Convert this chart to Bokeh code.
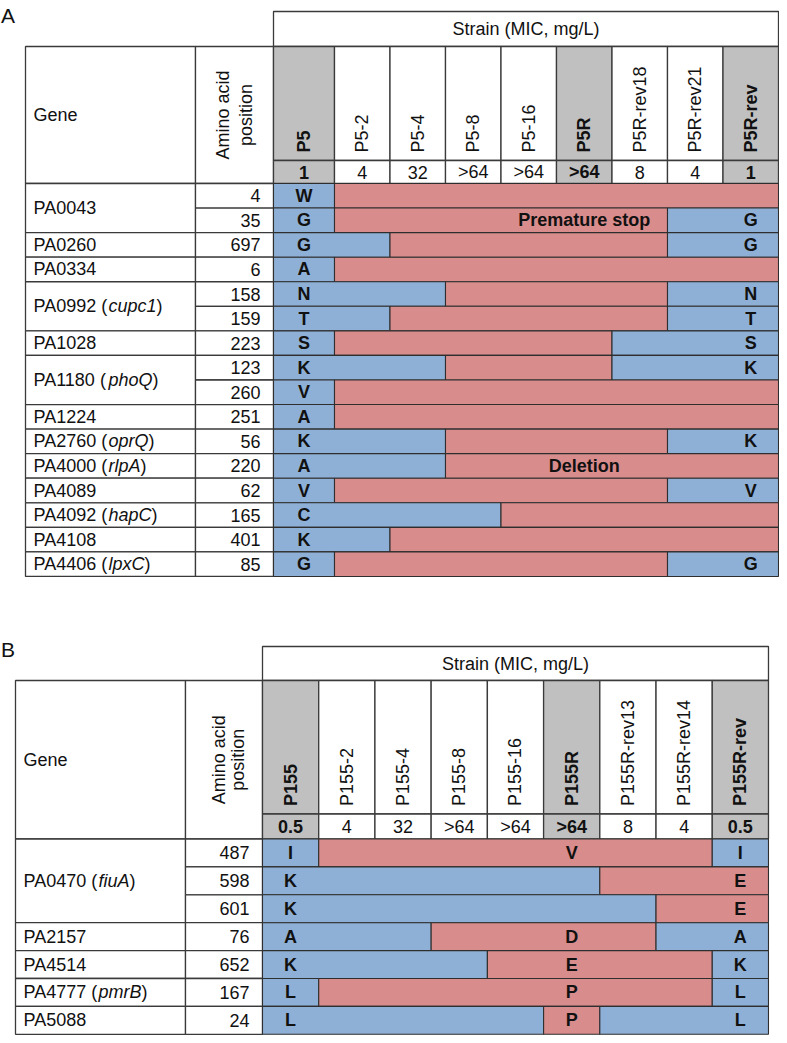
import math
from bokeh.plotting import figure
from bokeh.models import Range1d, ColumnDataSource
from bokeh.embed import file_html
from bokeh.resources import INLINE
from bokeh.core.properties import value

# ---------------- DATA ----------------
# Panel A
A_strains = ["P5", "P5-2", "P5-4", "P5-8", "P5-16", "P5R", "P5R-rev18", "P5R-rev21", "P5R-rev"]
A_mic = ["1", "4", "32", ">64", ">64", ">64", "8", "4", "1"]
A_key = [True, False, False, False, False, True, False, False, True]
A_gene = ["PA0043", "PA0043", "PA0260", "PA0334", "PA0992", "PA0992", "PA1028", "PA1180",
          "PA1180", "PA1224", "PA2760", "PA4000", "PA4089", "PA4092", "PA4108", "PA4406"]
A_gene_name = ["", "", "", "", "cupc1", "cupc1", "", "phoQ", "phoQ", "", "oprQ", "rlpA",
               "", "hapC", "", "lpxC"]
A_pos = [4, 35, 697, 6, 158, 159, 223, 123, 260, 251, 56, 220, 62, 165, 401, 85]
# B = wild-type residue (blue), R = changed (red), one letter per strain
A_state = ["BRRRRRRRR", "BRRRRRRBB", "BBRRRRRBB", "BRRRRRRRR", "BBBRRRRBB", "BBRRRRRBB",
           "BRRRRRBBB", "BBBRRRBBB", "BRRRRRRRR", "BRRRRRRRR", "BBBRRRRBB", "BBBRRRRRR",
           "BRRRRRRBB", "BBBBRRRRR", "BBRRRRRRR", "BRRRRRRBB"]
A_first = ["W", "G", "G", "A", "N", "T", "S", "K", "V", "A", "K", "A", "V", "C", "K", "G"]
A_mid = ["", "Premature stop", "", "", "", "", "", "", "", "", "", "Deletion", "", "", "", ""]
A_last = ["", "G", "G", "", "N", "T", "S", "K", "", "", "K", "", "V", "", "", "G"]

# Panel B
B_strains = ["P155", "P155-2", "P155-4", "P155-8", "P155-16", "P155R", "P155R-rev13",
             "P155R-rev14", "P155R-rev"]
B_mic = ["0.5", "4", "32", ">64", ">64", ">64", "8", "4", "0.5"]
B_key = [True, False, False, False, False, True, False, False, True]
B_gene = ["PA0470", "PA0470", "PA0470", "PA2157", "PA4514", "PA4777", "PA5088"]
B_gene_name = ["fiuA", "fiuA", "fiuA", "", "", "pmrB", ""]
B_pos = [487, 598, 601, 76, 652, 167, 24]
B_state = ["BRRRRRRRB", "BBBBBBRRR", "BBBBBBBRR", "BBBRRRRBB", "BBBBRRRRB", "BRRRRRRRB",
           "BBBBBRBBB"]
B_first = ["I", "K", "K", "A", "K", "L", "L"]
B_mid = ["V", "", "", "D", "E", "P", "P"]
B_last = ["I", "E", "E", "A", "K", "L", "L"]

# ---------------- STYLE ----------------
BLUE = "#8fb0d6"
RED = "#d98c8c"
GRAY = "#c0c0c0"
LINE = "#3a3a3a"
FONT = "Liberation Sans"
FS = 18

AW = {'P': .667, 'A': .667, ' ': .278, '(': .333, ')': .333, 'c': .5, 'u': .556, 'p': .556,
      'h': .556, 'o': .556, 'Q': .778, 'r': .333, 'l': .222, 'a': .556, 'C': .722, 'x': .5,
      'f': .278, 'i': .222, 'm': .833, 'B': .667}


def tw(s):
    return sum(AW.get(ch, .556) for ch in s) * FS


# figure fits the 787x1043 window with its 8px page margin
W, H = 779, 1035
X0, Y0 = 4, 6
p = figure(width=W, height=H, x_range=Range1d(X0, X0 + W), y_range=Range1d(Y0 + H, Y0),
           output_backend="svg", toolbar_location=None, min_border=0,
           x_axis_location=None, y_axis_location=None)
p.grid.visible = False
p.outline_line_color = None
p.background_fill_color = "white"
p.border_fill_color = "white"

cells = dict(l=[], r=[], t=[], b=[], c=[])
segs = dict(l=[], r=[], t=[], b=[], c=[])
texts = {}


def cell(l, r, t, b, c="white"):
    for k, v in zip("lrtbc", (l, r, t, b, c)):
        cells[k].append(v)


def seg(l, r, t, b, c):
    for k, v in zip("lrtbc", (l, r, t, b, c)):
        segs[k].append(v)


def T(x, y, s, align="left", style="normal", angle=0.0, size=FS, baseline="middle"):
    key = (align, style, angle, size, baseline)
    d = texts.setdefault(key, dict(x=[], y=[], s=[]))
    d["x"].append(x)
    d["y"].append(y)
    d["s"].append(s)


def panel(label, label_y, gl, pl, sl, edges, strain_top, hdr_top, names_bot, mic_bot, row_h,
          amino_dx, strains, mic, key, genes, names, pos, states, first, mid, last):
    right = edges[-1]
    T(X0 + 0.5, label_y, label, size=21, baseline="alphabetic")
    cell(sl, right, strain_top, hdr_top)
    T((sl + right) / 2, (strain_top + hdr_top) / 2, "Strain (MIC, mg/L)", align="center")
    cell(gl, pl, hdr_top, mic_bot)
    cell(pl, sl, hdr_top, mic_bot)
    hy = (hdr_top + mic_bot) / 2
    T(gl + 8, hy, "Gene")
    pc = (pl + sl) / 2
    T(pc + amino_dx[0], hy, "Amino acid", align="center", angle=math.pi / 2)
    T(pc + amino_dx[1], hy, "position", align="center", angle=math.pi / 2)
    for j in range(len(strains)):
        fill = GRAY if key[j] else "white"
        st = "bold" if key[j] else "normal"
        cx = (edges[j] + edges[j + 1]) / 2
        cell(edges[j], edges[j + 1], hdr_top, names_bot, fill)
        cell(edges[j], edges[j + 1], names_bot, mic_bot, fill)
        T(cx, names_bot - 8, strains[j], align="left", style=st, angle=math.pi / 2)
        T(cx, (names_bot + mic_bot) / 2, mic[j], align="center", style=st)
    n = len(pos)
    tops = [mic_bot + i * row_h for i in range(n + 1)]
    i = 0
    while i < n:
        j = i
        while j + 1 < n and genes[j + 1] == genes[i]:
            j += 1
        cell(gl, pl, tops[i], tops[j + 1])
        ym = (tops[i] + tops[j + 1]) / 2
        x0 = gl + 8
        if names[i]:
            pre = genes[i] + " ("
            T(x0, ym, pre)
            x1 = x0 + tw(pre)
            T(x1, ym, names[i], style="italic")
            T(x1 + tw(names[i]), ym, ")")
        else:
            T(x0, ym, genes[i])
        i = j + 1
    for i in range(n):
        ym = (tops[i] + tops[i + 1]) / 2
        cell(pl, sl, tops[i], tops[i + 1])
        T(sl - 13, ym, str(pos[i]), align="right")
        s = states[i]
        k = 0
        while k < len(s):
            m = k
            while m + 1 < len(s) and s[m + 1] == s[k]:
                m += 1
            seg(edges[k], edges[m + 1], tops[i], tops[i + 1], BLUE if s[k] == "B" else RED)
            k = m + 1
        T((edges[0] + edges[1]) / 2, ym, first[i], align="center", style="bold")
        if mid[i]:
            T((edges[5] + edges[6]) / 2, ym, mid[i], align="center", style="bold")
        if last[i]:
            T((edges[8] + edges[9]) / 2, ym, last[i], align="center", style="bold")


A_edges = [277, 338] + [338 + 55.5 * k for k in range(1, 9)]
B_edges = [266 + 56.22 * k for k in range(10)]

panel("A", 21, 29, 199, 277, A_edges, 17, 52, 166, 189, 24.56, (-11.5, 11.5),
      A_strains, A_mic, A_key, A_gene, A_gene_name, A_pos, A_state, A_first, A_mid, A_last)
panel("B", 655, 19, 189, 266, B_edges, 652, 686, 819.5, 844.5, 27.9, (-5, 13.5),
      B_strains, B_mic, B_key, B_gene, B_gene_name, B_pos, B_state, B_first, B_mid, B_last)

p.quad(left="l", right="r", top="t", bottom="b", fill_color="c", source=ColumnDataSource(cells),
       line_color=LINE, line_width=1.3)
p.quad(left="l", right="r", top="t", bottom="b", fill_color="c", source=ColumnDataSource(segs),
       line_color="#2e2e2e", line_width=1.1)

for (align, style, angle, size, baseline), d in texts.items():
    p.text(x=d["x"], y=d["y"], text=d["s"], text_align=align, text_baseline=baseline,
           text_font=value(FONT), text_font_size=f"{size}px", text_font_style=style,
           angle=angle, text_color="#111111")

open("out.html", "w").write(file_html(p, INLINE))
